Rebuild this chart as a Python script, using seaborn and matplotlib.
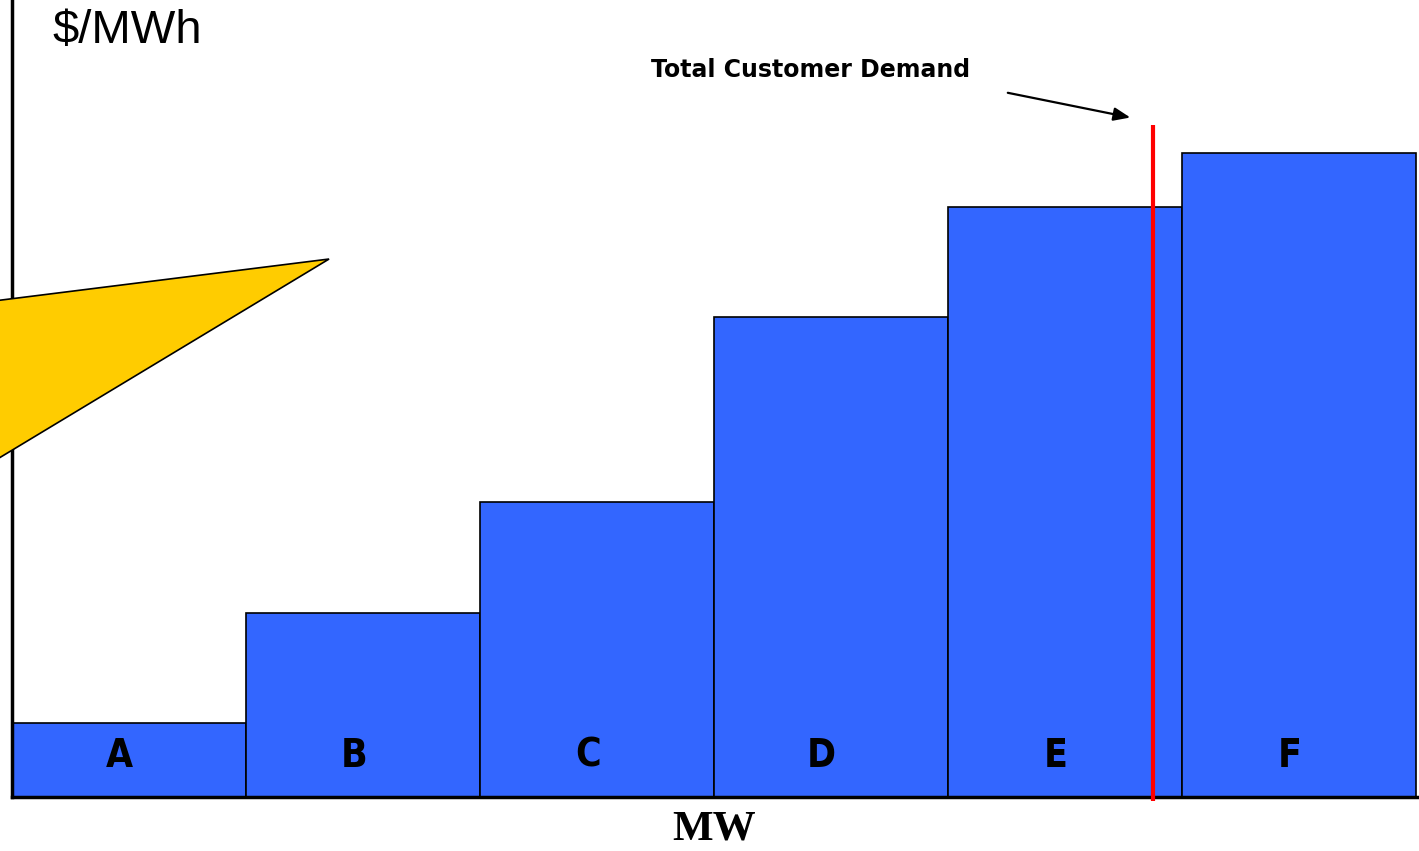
import numpy as np
import pandas as pd
import matplotlib
matplotlib.use("Agg")
import matplotlib.pyplot as plt
from matplotlib.patches import Polygon
import seaborn as sns

# Supply stack (merit order), each unit 100 MW
units = ["A", "B", "C", "D", "E", "F"]
capacity_mw = [100, 100, 100, 100, 100, 100]
price = [10, 25, 40, 65, 80, 87.3]
demand_mw = 487.6
demand_top = 91.1

# callout wedge (in MW / $ units), partly off the chart
callout_x = [-30.8, 135.5, -30.8]
callout_y = [66.3, 72.9, 41.1]

edges = np.concatenate([[0], np.cumsum(capacity_mw)])
df = pd.DataFrame({"unit": units, "mid": (edges[:-1] + edges[1:]) / 2, "price": price})

sns.set_style("white")
plt.rcParams["text.color"] = "black"
fig = plt.figure(figsize=(14.19, 8.51), dpi=100)
ax = fig.add_axes([12 / 1419, 54 / 851, 1407 / 1419, 797 / 851])

sns.barplot(data=df, x="mid", y="price", native_scale=True, orient="x", width=1.0,
            color="#3366FF", saturation=1, edgecolor="black", linewidth=1.2, ax=ax)

for _, r in df.iterrows():
    ax.text(r["mid"] - 4, 5.6, r["unit"], ha="center", va="center", color="black",
            fontsize=28, fontweight="bold", family="DejaVu Sans", stretch="condensed")

# demand line
ax.vlines(demand_mw, -0.5, demand_top, color="#FF0000", lw=3, zorder=5, clip_on=False)
ax.annotate("", xy=(479.1, 92.0), xytext=(424.4, 95.5),
            arrowprops=dict(arrowstyle="-|>,head_length=1.0,head_width=0.4", color="black", lw=1.6))
ax.text(273, 98.5, "Total Customer Demand", ha="left", va="center", color="black",
        fontsize=17, fontweight="bold", family="DejaVu Sans")

ax.add_patch(Polygon(list(zip(callout_x, callout_y)), closed=True, facecolor="#FFCC00",
                     edgecolor="black", lw=1.2, zorder=6, clip_on=False))

ax.text(17.5, 103.8, "$/MWh", ha="left", va="center", fontsize=34, color="black",
        family="Liberation Sans")
fig.text(714 / 1419, 1 - 830 / 851, "MW", ha="center", va="center", fontsize=31,
         color="black", fontweight="bold", family="Liberation Serif")

ax.set_xlim(0, 601.3)
ax.set_ylim(0, 108)
ax.set_xlabel("")
ax.set_ylabel("")
ax.set_xticks([])
ax.set_yticks([])
sns.despine(ax=ax)
for s in ["left", "bottom"]:
    ax.spines[s].set_linewidth(2.5)
    ax.spines[s].set_color("black")

fig.savefig("out.png", dpi=100)
